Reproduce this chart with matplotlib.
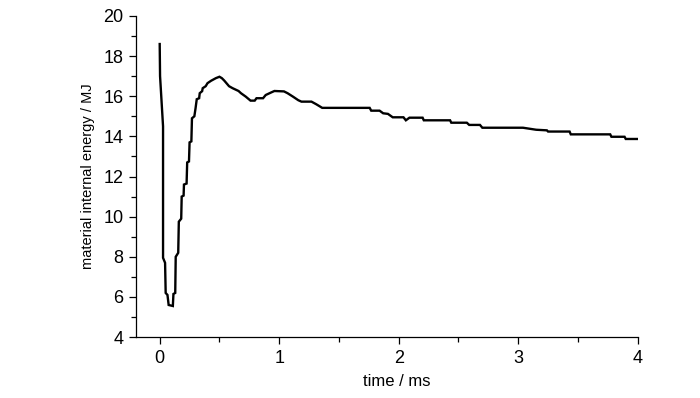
import matplotlib
matplotlib.use("Agg")
import matplotlib.pyplot as plt
from matplotlib.ticker import MultipleLocator

# time in ms, material internal energy in MJ
time_ms = [0, 0.003, 0.028, 0.028, 0.045, 0.05, 0.065, 0.075, 0.11, 0.115, 0.13,
           0.134, 0.155, 0.16, 0.18, 0.184, 0.2, 0.203, 0.225, 0.23, 0.245, 0.25,
           0.265, 0.27, 0.29, 0.30, 0.31, 0.33, 0.335, 0.355, 0.36, 0.385, 0.40,
           0.43, 0.47, 0.50, 0.52, 0.54, 0.58, 0.61, 0.66, 0.68, 0.72, 0.76,
           0.795, 0.81, 0.865, 0.887, 0.93, 0.96, 1.04, 1.07, 1.115, 1.16, 1.186,
           1.27, 1.31, 1.36, 1.757, 1.77, 1.84, 1.87, 1.91, 1.95, 2.04, 2.06,
           2.09, 2.2, 2.21, 2.43, 2.44, 2.57, 2.59, 2.68, 2.7, 3.04, 3.15, 3.24,
           3.25, 3.43, 3.44, 3.77, 3.78, 3.89, 3.9, 4.0]
energy_mj = [18.6, 17.0, 14.5, 7.95, 7.7, 6.2, 6.1, 5.6, 5.55, 6.15, 6.2,
             8.0, 8.2, 9.75, 9.9, 11.0, 11.05, 11.6, 11.65, 12.7, 12.75, 13.7,
             13.75, 14.9, 15.0, 15.4, 15.85, 15.9, 16.15, 16.25, 16.4, 16.5, 16.65,
             16.77, 16.9, 16.97, 16.9, 16.78, 16.5, 16.4, 16.26, 16.15, 15.98, 15.78,
             15.78, 15.9, 15.9, 16.06, 16.18, 16.26, 16.24, 16.15, 15.98, 15.8, 15.73,
             15.73, 15.6, 15.42, 15.42, 15.28, 15.28, 15.15, 15.12, 14.95, 14.95, 14.8,
             14.93, 14.93, 14.8, 14.8, 14.68, 14.68, 14.57, 14.57, 14.43, 14.43, 14.33, 14.3,
             14.24, 14.24, 14.1, 14.1, 13.98, 13.98, 13.87, 13.87]

plt.rcParams["font.family"] = ["Liberation Sans", "DejaVu Sans"]

fig = plt.figure(figsize=(7, 3.98), dpi=100)
ax = fig.add_axes([0.194, 0.153, 0.717, 0.807])

ax.plot(time_ms, energy_mj, color="black", lw=1.7, solid_joinstyle="miter")

ax.set_xlim(-0.2, 4)
ax.set_ylim(4, 20)
ax.xaxis.set_major_locator(MultipleLocator(1))
ax.xaxis.set_minor_locator(MultipleLocator(0.5))
ax.yaxis.set_major_locator(MultipleLocator(2))
ax.yaxis.set_minor_locator(MultipleLocator(1))

for side in ("top", "right"):
    ax.spines[side].set_visible(False)
for side in ("left", "bottom"):
    ax.spines[side].set_linewidth(0.9)

ax.tick_params(which="major", direction="out", length=5, width=0.9, labelsize=13, pad=4)
ax.tick_params(which="minor", direction="out", length=3.5, width=0.9)

ax.set_xlabel("time / ms", fontsize=12)
ax.set_ylabel("material internal energy / MJ", fontsize=10.5)
ax.xaxis.set_label_coords(0.52, -0.114)
ax.yaxis.set_label_coords(-0.081, 0.5)

fig.savefig("out.png", dpi=100)
